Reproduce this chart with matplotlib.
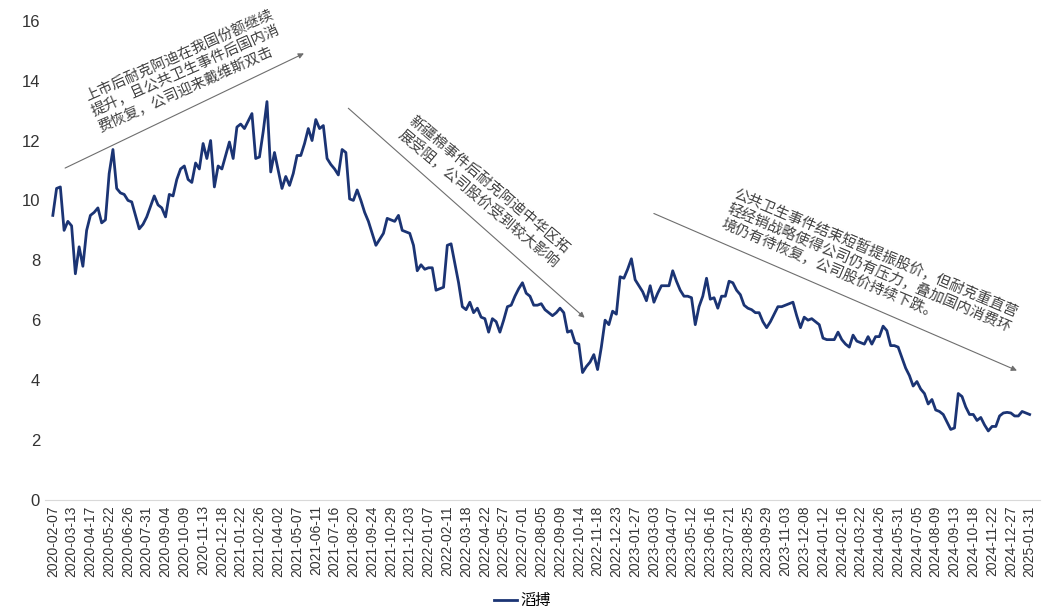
import matplotlib.pyplot as plt
import numpy as np
import pandas as pd

plt.rcParams['font.family'] = ['Liberation Sans', 'Noto Sans CJK SC', 'DejaVu Sans']

# weekly close, 2020-02-07 .. 2025-01-31
dates = pd.date_range('2020-02-07', periods=261, freq='7D')
price = [
    9.5, 10.4, 10.45, 9.0, 9.3, 9.15, 7.55, 8.45, 7.8, 9.0,
    9.5, 9.6, 9.75, 9.25, 9.35, 10.9, 11.7, 10.4, 10.25, 10.2,
    10.0, 9.95, 9.5, 9.05, 9.2, 9.45, 9.8, 10.15, 9.85, 9.75,
    9.45, 10.2, 10.15, 10.7, 11.05, 11.15, 10.7, 10.6, 11.25, 11.05,
    11.9, 11.4, 12.0, 10.45, 11.15, 11.05, 11.5, 11.95, 11.4, 12.45,
    12.55, 12.4, 12.65, 12.9, 11.4, 11.45, 12.3, 13.3, 10.95, 11.6,
    11.0, 10.4, 10.8, 10.5, 10.9, 11.5, 11.5, 11.9, 12.4, 12.0,
    12.7, 12.4, 12.5, 11.4, 11.2, 11.05, 10.85, 11.7, 11.6, 10.05,
    10.0, 10.35, 10.0, 9.6, 9.3, 8.9, 8.5, 8.7, 8.9, 9.4,
    9.35, 9.3, 9.5, 9.0, 8.95, 8.9, 8.5, 7.65, 7.85, 7.7,
    7.75, 7.75, 7.0, 7.05, 7.1, 8.5, 8.55, 7.9, 7.25, 6.45,
    6.35, 6.6, 6.25, 6.4, 6.1, 6.05, 5.6, 6.05, 5.95, 5.6,
    6.0, 6.45, 6.5, 6.8, 7.05, 7.25, 6.9, 6.8, 6.5, 6.5,
    6.55, 6.35, 6.25, 6.15, 6.25, 6.4, 6.25, 5.6, 5.65, 5.25,
    5.2, 4.25, 4.45, 4.6, 4.85, 4.35, 5.1, 6.0, 5.85, 6.3,
    6.2, 7.45, 7.4, 7.7, 8.05, 7.35, 7.15, 6.95, 6.65, 7.15,
    6.6, 6.9, 7.15, 7.15, 7.15, 7.65, 7.3, 7.0, 6.8, 6.8,
    6.75, 5.85, 6.45, 6.8, 7.4, 6.7, 6.75, 6.4, 6.8, 6.8,
    7.3, 7.25, 7.0, 6.85, 6.5, 6.4, 6.35, 6.25, 6.25, 5.95,
    5.75, 5.95, 6.2, 6.45, 6.45, 6.5, 6.55, 6.6, 6.15, 5.75,
    6.1, 6.0, 6.05, 5.95, 5.85, 5.4, 5.35, 5.35, 5.35, 5.6,
    5.35, 5.2, 5.1, 5.5, 5.3, 5.25, 5.2, 5.45, 5.2, 5.45,
    5.45, 5.8, 5.65, 5.15, 5.15, 5.1, 4.75, 4.4, 4.15, 3.8,
    3.95, 3.7, 3.55, 3.2, 3.35, 3.0, 2.95, 2.85, 2.6, 2.35,
    2.4, 3.55, 3.45, 3.1, 2.85, 2.85, 2.65, 2.75, 2.5, 2.3,
    2.45, 2.45, 2.8, 2.9, 2.92, 2.9, 2.8, 2.8, 2.95, 2.9,
    2.85,
]
labels = [d.strftime('%Y-%m-%d') for d in dates]
tick_step = 5

notes = [
    '上市后耐克阿迪在我国份额继续\n提升，且公共卫生事件后国内消\n费恢复，公司迎来戴维斯双击',
    '新疆棉事件后耐克阿迪中华区拓\n展受阻，公司股价受到较大影响',
    '公共卫生事件结束短暂提振股价，但耐克重直营\n轻经销战略使得公司仍有压力，叠加国内消费环\n境仍有待恢复，公司股价持续下跌。',
]

fig = plt.figure(figsize=(10.45, 6.11), dpi=100)
ax = fig.add_axes([0.043, 0.182, 0.952, 0.784])
x = np.arange(len(price))
ax.plot(x, price, color='#1b3474', lw=2, label='滔搏')

ax.set_xlim(-2.1, 262.7)
ax.set_ylim(0, 16)
ax.set_yticks(range(0, 17, 2))
ax.set_xticks(x[::tick_step])
ax.set_xticklabels(labels[::tick_step], rotation=90, fontsize=10, color='#333333')
ax.tick_params(axis='y', labelsize=12, colors='#333333', length=0)
ax.tick_params(axis='x', length=0, pad=4)
for s in ['top', 'right', 'left']:
    ax.spines[s].set_visible(False)
ax.spines['bottom'].set_color('#d9d9d9')

arrow = dict(arrowstyle='-|>', color='#6e6e6e', lw=0.8, mutation_scale=8)
ax.annotate('', xy=(67.5, 14.95), xytext=(2.6, 11.04), arrowprops=arrow)
ax.annotate('', xy=(142.1, 6.02), xytext=(78.1, 13.14), arrowprops=arrow)
ax.annotate('', xy=(257.3, 4.28), xytext=(159.3, 9.6), arrowprops=arrow)

tkw = dict(ha='center', va='center', multialignment='left', rotation_mode='anchor',
           fontsize=10.5, color='#404040', family=['Noto Sans CJK SC', 'DejaVu Sans'],
           linespacing=1.2)
ax.text(35.5, 14.3, notes[0], rotation=24, **tkw)
ax.text(114.8, 10.3, notes[1], rotation=-40, **tkw)
ax.text(217.4, 7.75, notes[2], rotation=-23, **tkw)

fig.legend(loc='lower center', bbox_to_anchor=(0.5, -0.02), frameon=False,
           prop={'family': ['Noto Sans CJK SC'], 'size': 11}, handlelength=1.5,
           handletextpad=0.2)

fig.savefig('out.png', dpi=100)
